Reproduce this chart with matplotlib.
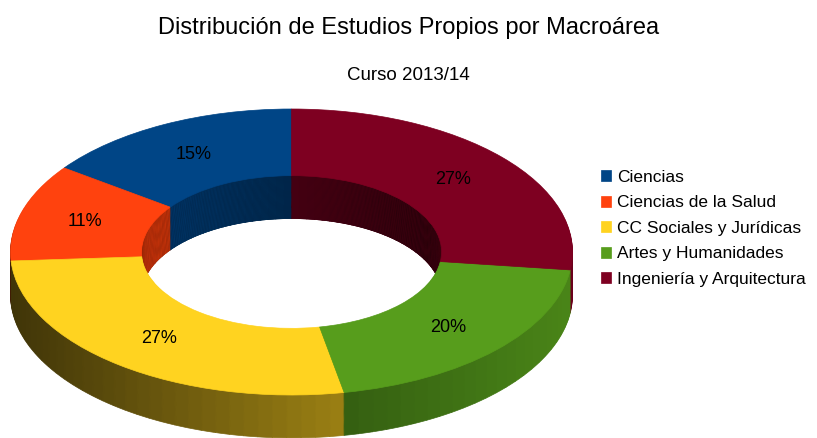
import numpy as np
import matplotlib.pyplot as plt
from matplotlib.patches import Wedge
from matplotlib.collections import PatchCollection
from matplotlib.colors import to_rgb

plt.rcParams['font.family'] = ['Liberation Sans', 'DejaVu Sans']

labels = ["Ciencias", "Ciencias de la Salud", "CC Sociales y Jurídicas",
          "Artes y Humanidades", "Ingeniería y Arquitectura"]
values = [15, 11, 27, 20, 27]
colors = ["#004586", "#ff420e", "#ffd320", "#579d1c", "#7e0021"]

r_out, r_in = 1.0, 0.534
depth = 0.3
nlayers = 40
step = 3

fig = plt.figure(figsize=(8.17, 4.38), dpi=100)
# 281 px per unit in x, 143 px per unit in y, centre at (291.5, 252) px
ax = fig.add_axes([(291.5 - 1.02 * 281) / 817, (438 - 252 - (1.02 + depth) * 143) / 438,
                   2.04 * 281 / 817, (2.04 + depth) * 143 / 438])


def shade(c, nx):
    f = 0.55 + 0.3 * nx
    return tuple(np.clip(np.array(to_rgb(c)) * f, 0, 1))


angles = 90 + np.concatenate([[0], np.cumsum(values)]) / sum(values) * 360

# side walls: stack of rings from the bottom up
patches, fcs = [], []
dz = depth / nlayers
for d in np.linspace(depth, dz, nlayers):
    for ring in ("outer", "inner"):
        for i, c in enumerate(colors):
            a0, a1 = angles[i], angles[i + 1]
            n = max(1, int(np.ceil((a1 - a0) / step)))
            edges = np.linspace(a0, a1, n + 1)
            for t0, t1 in zip(edges[:-1], edges[1:]):
                nx = np.cos(np.radians((t0 + t1) / 2))
                if ring == "outer":
                    patches.append(Wedge((0, -d), r_out, t0, t1, width=r_out - r_in))
                    fcs.append(shade(c, nx))
                else:
                    patches.append(Wedge((0, -d), r_in + 3 * dz, t0, t1, width=3 * dz))
                    fcs.append(shade(c, -nx))
coll = PatchCollection(patches, facecolors=fcs, edgecolors=fcs, linewidths=0.5, zorder=1)
ax.add_collection(coll)

wedges, texts, autotexts = ax.pie(values, colors=colors, startangle=90, counterclock=True,
                                  radius=r_out, wedgeprops=dict(width=r_out - r_in, linewidth=0.5),
                                  autopct="%.0f%%", pctdistance=(r_out + r_in) / 2,
                                  textprops=dict(fontsize=13, color="black"))
for w in wedges:
    w.set_edgecolor(w.get_facecolor())
    w.set_zorder(3)
for t in autotexts:
    t.set_zorder(4)

ax.set_aspect("auto")
ax.set_xlim(-1.02, 1.02)
ax.set_ylim(-1.02 - depth, 1.02)
ax.axis("off")

fig.text(0.5, 1 - 28 / 438, "Distribución de Estudios Propios por Macroárea",
         ha="center", va="center", fontsize=17)
fig.text(0.5, 1 - 75 / 438, "Curso 2013/14", ha="center", va="center", fontsize=13.5)

fig.legend(wedges, labels, loc="upper left", bbox_to_anchor=(601 / 817, 1 - 170 / 438),
           frameon=False, fontsize=12.5, handlelength=0.6, handleheight=0.6,
           handletextpad=0.35, labelspacing=0.6, borderaxespad=0, borderpad=0)

fig.savefig("out.png", dpi=100)
